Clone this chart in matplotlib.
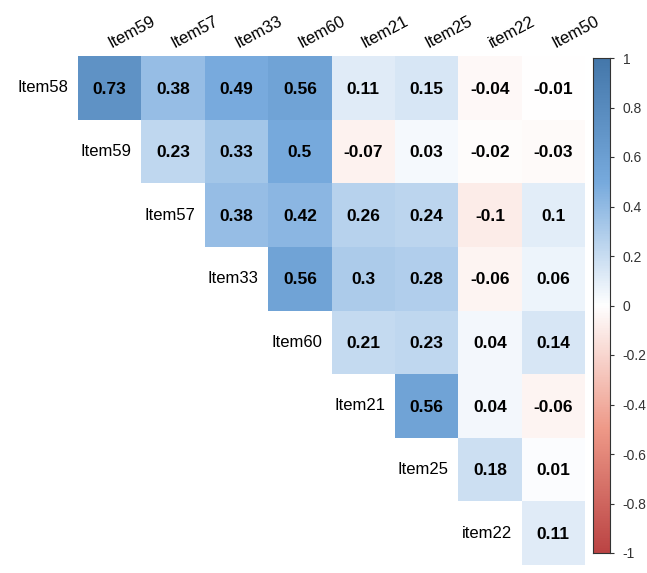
import numpy as np
import matplotlib
matplotlib.use("Agg")
import matplotlib.pyplot as plt
from matplotlib.colors import LinearSegmentedColormap, Normalize

plt.rcParams["font.family"] = ["Liberation Sans", "DejaVu Sans"]

row_labels = ["Item58", "Item59", "Item57", "Item33", "Item60", "Item21", "Item25", "item22"]
col_labels = ["Item59", "Item57", "Item33", "Item60", "Item21", "Item25", "item22", "Item50"]

# upper-triangle correlations, one list per row (starting at the diagonal column)
r_item58 = [0.73, 0.38, 0.49, 0.56, 0.11, 0.15, -0.04, -0.01]
r_item59 = [0.23, 0.33, 0.5, -0.07, 0.03, -0.02, -0.03]
r_item57 = [0.38, 0.42, 0.26, 0.24, -0.1, 0.1]
r_item33 = [0.56, 0.3, 0.28, -0.06, 0.06]
r_item60 = [0.21, 0.23, 0.04, 0.14]
r_item21 = [0.56, 0.04, -0.06]
r_item25 = [0.18, 0.01]
r_item22 = [0.11]
rows = [r_item58, r_item59, r_item57, r_item33, r_item60, r_item21, r_item25, r_item22]

legend_ticks = [-1, -0.8, -0.6, -0.4, -0.2, 0, 0.2, 0.4, 0.6, 0.8, 1]

n = len(row_labels)
mat = np.full((n, n), np.nan)
for i, vals in enumerate(rows):
    mat[i, i:] = vals

cmap = LinearSegmentedColormap.from_list(
    "corr", ["#BB4444", "#EE9988", "#FFFFFF", "#77AADD", "#4477AA"], N=200)
norm = Normalize(vmin=-1, vmax=1)

W, H = 647, 573
fig = plt.figure(figsize=(W / 100, H / 100), dpi=100)
fig.patch.set_facecolor("white")

# grid area in pixels: left 78, right 585, top 56, bottom 565
gx0, gx1, gy0, gy1 = 78, 585, 56, 565
ax = fig.add_axes([gx0 / W, (H - gy1) / H, (gx1 - gx0) / W, (gy1 - gy0) / H])
masked = np.ma.masked_invalid(mat)
ax.pcolormesh(np.arange(n + 1), np.arange(n + 1), masked, cmap=cmap, norm=norm,
              edgecolors="none")
ax.set_xlim(0, n)
ax.set_ylim(n, 0)
ax.axis("off")

for i in range(n):
    for j in range(i, n):
        v = mat[i, j]
        ax.text(j + 0.5, i + 0.52, f"{v:g}", ha="center", va="center",
                fontsize=12.5, fontweight="bold", color="black")
    # row label left of the first cell of the row
    ax.text(i - 0.15, i + 0.5, row_labels[i], ha="right", va="center",
            fontsize=12, color="black")

for j in range(n):
    ax.text(j + 0.55, -0.08, col_labels[j], ha="left", va="bottom",
            rotation=28, rotation_mode="anchor", fontsize=12, color="black",
            clip_on=False)

# colour legend
cx0, cx1, cy0, cy1 = 593, 610, 58, 553
cax = fig.add_axes([cx0 / W, (H - cy1) / H, (cx1 - cx0) / W, (cy1 - cy0) / H])
grad = np.linspace(-1, 1, 400).reshape(-1, 1)
cax.imshow(grad, aspect="auto", cmap=cmap, norm=norm, origin="lower",
           extent=[0, 1, -1, 1])
cax.set_xlim(0, 1)
cax.set_ylim(-1, 1)
cax.set_xticks([])
cax.yaxis.tick_right()
cax.set_yticks(legend_ticks)
cax.set_yticklabels([f"{t:g}" for t in legend_ticks], fontsize=10, color="#333333")
cax.tick_params(axis="y", length=3, width=0.8, color="#333333", pad=6)
for s in cax.spines.values():
    s.set_linewidth(0.8)
    s.set_color("#333333")

fig.savefig("out.png", dpi=100)
